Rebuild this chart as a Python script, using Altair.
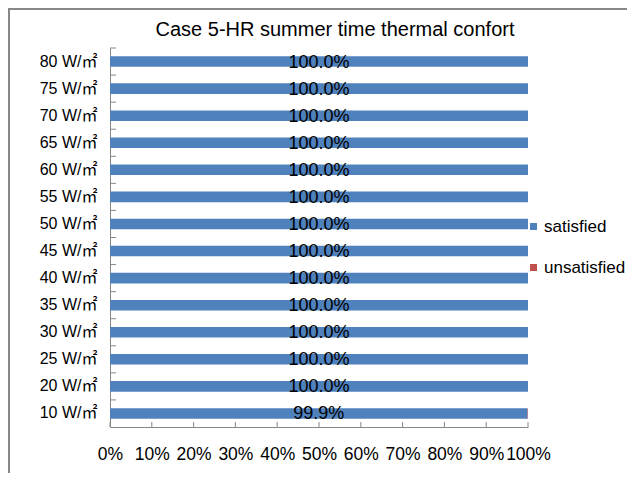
import altair as alt
import pandas as pd

categories = ["80 W/㎡", "75 W/㎡", "70 W/㎡", "65 W/㎡", "60 W/㎡", "55 W/㎡", "50 W/㎡",
              "45 W/㎡", "40 W/㎡", "35 W/㎡", "30 W/㎡", "25 W/㎡", "20 W/㎡", "10 W/㎡"]
satisfied = [100.0, 100.0, 100.0, 100.0, 100.0, 100.0, 100.0,
             100.0, 100.0, 100.0, 100.0, 100.0, 100.0, 99.9]
unsatisfied = [0.0, 0.0, 0.0, 0.0, 0.0, 0.0, 0.0,
               0.0, 0.0, 0.0, 0.0, 0.0, 0.0, 0.1]
series = ["satisfied", "unsatisfied"]
colors = ["#4F81BD", "#C0504D"]
x_ticks = [0, 10, 20, 30, 40, 50, 60, 70, 80, 90, 100]

rows = []
for i, c in enumerate(categories):
    rows.append({"cat": c, "series": "satisfied", "value": satisfied[i], "ord": 0})
    rows.append({"cat": c, "series": "unsatisfied", "value": unsatisfied[i], "ord": 1})
df = pd.DataFrame(rows)
lab = pd.DataFrame({"cat": categories, "value": satisfied})
xt = pd.DataFrame({"t": x_ticks})

FONT = "Liberation Sans, Arial, 'Noto Sans CJK JP'"
AXC = "#868686"
H = 379
STEP = H / len(categories)
P_IN = 0.61
P_OUT = P_IN / 2

yscale = alt.Scale(domain=categories, paddingInner=P_IN, paddingOuter=P_OUT)

bars = alt.Chart(df).mark_bar().encode(
    x=alt.X("value:Q", stack="zero", title=None,
            scale=alt.Scale(domain=[0, 100], nice=False),
            axis=alt.Axis(values=x_ticks, labelExpr="datum.value + '%'",
                          labelFont=FONT, labelFontSize=17.5, labelColor="#000",
                          domainColor=AXC, ticks=False, labelOverlap=False,
                          labelFlush=False, labelPadding=18, grid=False)),
    y=alt.Y("cat:N", sort=categories, title=None, scale=yscale,
            axis=alt.Axis(labelFont=FONT, labelFontSize=16, labelColor="#000",
                          domainColor=AXC, ticks=False, labelPadding=13)),
    color=alt.Color("series:N", scale=alt.Scale(domain=series, range=colors),
                    legend=alt.Legend(title=None, orient="none", legendX=415, legendY=170,
                                      symbolType="square", symbolSize=49,
                                      symbolStrokeWidth=0, labelFont=FONT,
                                      labelFontSize=17, labelColor="#000",
                                      labelOffset=2, rowPadding=23)),
    order=alt.Order("ord:Q"),
)

labels = alt.Chart(lab).transform_calculate(
    mid="datum.value / 2",
    txt="format(datum.value, '.1f') + '%'",
).mark_text(font=FONT, fontSize=18, color="#000", baseline="middle", dy=1).encode(
    x=alt.X("mid:Q"),
    y=alt.Y("cat:N", sort=categories, scale=yscale),
    text="txt:N",
)

# inward tick marks on the x axis (upward)
xticks = alt.Chart(xt).mark_rule(color=AXC, strokeWidth=1).encode(
    x=alt.X("t:Q"), y=alt.value(H - 5), y2=alt.value(H)
)

# inward tick marks on the y axis at category boundaries
yticks = alt.Chart(lab).mark_rule(color=AXC, strokeWidth=1).encode(
    y=alt.Y("cat:N", sort=categories, scale=yscale),
    yOffset=alt.value(-P_OUT * STEP),
    x=alt.value(0), x2=alt.value(6),
)

frame = alt.Chart(pd.DataFrame({"a": [0]})).mark_rect(
    fill=None, stroke="#878787", strokeWidth=2
).encode(x=alt.value(-101), x2=alt.value(900), y=alt.value(-39), y2=alt.value(900))

chart = alt.layer(frame, bars, labels, xticks, yticks).properties(
    width=418, height=H,
    title=alt.TitleParams("Case 5-HR summer time thermal confort", font=FONT,
                          fontSize=20, fontWeight="normal", color="#000",
                          anchor="middle", dx=16, offset=-32),
    autosize=alt.AutoSizeParams(type="none"),
    padding={"left": 102, "top": 40, "right": 99, "bottom": 46},
).configure_view(stroke=None)

chart.save("out.html", embed_options={"renderer": "svg", "actions": False})
